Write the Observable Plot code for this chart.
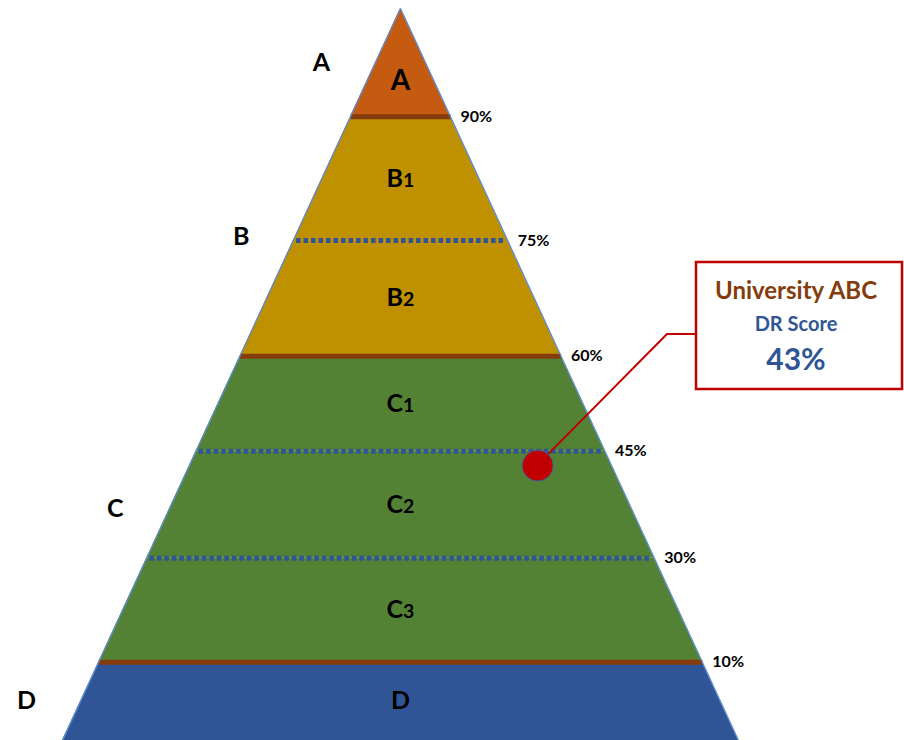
<!DOCTYPE html>
<html><head><meta charset="utf-8">
<script src="https://cdn.jsdelivr.net/npm/d3@7"></script>
<script src="https://cdn.jsdelivr.net/npm/@observablehq/plot@0.6"></script>
<style>
body{margin:0;background:#fff;}
#chart{width:904px;height:740px;overflow:hidden;}
</style></head><body><div id="chart"></div>
<script>
// ---- data ----
const tierNames  = ["A","B1","B2","C1","C2","C3","D"];
const tierGroups = ["A","B","B","C","C","C","D"];
const levelPct   = [90, 75, 60, 45, 30, 10];
// depth of each level line, as fraction of pyramid height from apex
const levelDepth = [0.148, 0.317, 0.475, 0.605, 0.751, 0.893];
const groupNames  = ["A","B","C","D"];
const groupColors = ["#C55A11","#BF9000","#548235","#2F5597"];
const calloutName  = "University ABC";
const calloutTitle = "DR Score";
const scoreValue   = 43;

// ---- derived tables ----
const tierTop = [0, ...levelDepth];
const tierBottom = [...levelDepth, 1];
const tiers = tierNames.map((t, i) => ({tier: t, group: tierGroups[i], top: tierTop[i], bottom: tierBottom[i]}));
const areaRows = tiers.flatMap(t => [{tier: t.tier, group: t.group, d: t.top}, {tier: t.tier, group: t.group, d: t.bottom}]);
const levels = levelPct.map((p, i) => ({pct: p, depth: levelDepth[i], major: tierGroups[i] !== tierGroups[i + 1]}));
const tierLabels = tiers.map(t => ({...t, mid: t.top === 0 ? t.bottom * 2 / 3 : (t.top + t.bottom) / 2}));
const groupLabels = groupNames.map(g => {
  const ts = tiers.filter(t => t.group === g);
  return {group: g, mid: (d3.min(ts, t => t.top) + d3.max(ts, t => t.bottom)) / 2};
});
const sides = [-1, 1];
const scoreDepth = d3.scaleLinear().domain(levelPct).range(levelDepth)(scoreValue);
const score = {value: scoreValue, depth: scoreDepth, x: 0.65 * scoreDepth};

const font = "Lato, 'Open Sans', 'DejaVu Sans', sans-serif";

const chart = Plot.plot({
  width: 904, height: 740,
  marginLeft: 62, marginRight: 166, marginTop: 8, marginBottom: 0,
  x: {domain: [-1, 1], axis: null},
  y: {domain: [0, 1], reverse: true, axis: null},
  color: {domain: groupNames, range: groupColors},
  style: {fontFamily: font, background: "#fff", overflow: "visible"},
  marks: [
    Plot.areaX(areaRows, {y: "d", x1: r => -r.d, x2: r => r.d, z: "tier", fill: "group", curve: "linear"}),
    Plot.link(levels.filter(l => !l.major), {x1: l => -l.depth + 0.008, y1: "depth", x2: l => l.depth - 0.008, y2: "depth",
      stroke: "#2F5597", strokeWidth: 5, strokeDasharray: "4.5,3", strokeLinecap: "butt"}),
    Plot.link(levels.filter(l => l.major), {x1: l => -l.depth, y1: "depth", x2: l => l.depth, y2: "depth",
      stroke: "#843C0C", strokeWidth: 5, strokeLinecap: "butt"}),
    Plot.link(sides, {x1: () => 0, y1: () => 0, x2: s => s, y2: () => 1, stroke: "#5B8BD0", strokeWidth: 1.3}),
    Plot.text(levels, {x: l => l.depth, y: "depth", text: l => l.pct + "%", textAnchor: "start", dx: 10,
      fontSize: 16, fontWeight: "bold", fill: "#000"}),
    Plot.text(tierLabels.filter(t => t.top === 0), {x: () => 0, y: "mid", text: "tier", fontSize: 28, fontWeight: "bold", fill: "#000"}),
    Plot.text(tierLabels.filter(t => t.top !== 0), {x: () => 0, y: "mid", text: "tier", fontSize: 25, fontWeight: "bold", fill: "#000"}),
    Plot.text(groupLabels, {x: g => -g.mid, y: "mid", text: "group", dx: -54, fontSize: 25, fontWeight: "bold", fill: "#000"}),
    Plot.dot([score], {x: "x", y: "depth", r: 15.5, fill: "#C00000", stroke: "#3F5F9F", strokeWidth: 1})
  ]
});

document.getElementById("chart").appendChild(chart);

// smaller digits in sub-tier labels (B1, B2, C1, C2, C3)
d3.select(chart).selectAll("text").each(function() {
  const s = this.textContent;
  if (!/^[A-Z]\d$/.test(s)) return;
  const el = d3.select(this);
  el.text(null);
  el.append("tspan").text(s.slice(0, 1));
  el.append("tspan").attr("font-size", "0.78em").text(s.slice(1));
});

// callout (leader + box) placed beside the plot, linked to the score marker
const xs = chart.scale("x"), ys = chart.scale("y");
const px = xs.apply(score.x), py = ys.apply(score.depth);
const bw = 206, bh = 127, bx = 904 - 2 - bw, by = 262;
const ex = bx - 29, ey = by + 72;
const svg = d3.select(chart);
const g = svg.insert("g", 'g[aria-label="dot"]').attr("font-family", font);
g.append("path").attr("d", `M${px},${py}L${ex},${ey}L${bx},${ey}`)
  .attr("fill", "none").attr("stroke", "#C00000").attr("stroke-width", 2);
g.append("rect").attr("x", bx).attr("y", by).attr("width", bw).attr("height", bh)
  .attr("fill", "#fff").attr("stroke", "#C00000").attr("stroke-width", 2.5);
const cx = bx + bw / 2;
g.append("text").attr("x", cx - 3).attr("y", by + 31).attr("text-anchor", "middle").attr("dominant-baseline", "middle")
  .attr("font-size", 24).attr("font-weight", "bold").attr("fill", "#843C0C").text(calloutName);
g.append("text").attr("x", cx - 3).attr("y", by + 64).attr("text-anchor", "middle").attr("dominant-baseline", "middle")
  .attr("font-size", 20).attr("font-weight", "bold").attr("fill", "#2F5597").text(calloutTitle);
g.append("text").attr("x", cx - 3).attr("y", by + 100).attr("text-anchor", "middle").attr("dominant-baseline", "middle")
  .attr("font-size", 30).attr("font-weight", "bold").attr("fill", "#2F5597").text(score.value + "%");
</script>
</body></html>
